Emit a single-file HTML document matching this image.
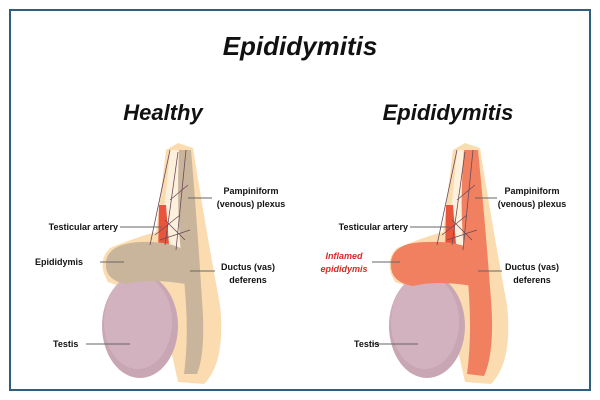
<!DOCTYPE html>
<html><head><meta charset="utf-8"><style>
html,body{margin:0;padding:0;background:#fff}
svg{display:block}
text{font-family:"Liberation Sans",sans-serif}
</style></head><body>
<svg width="600" height="400" viewBox="0 0 600 400" xmlns="http://www.w3.org/2000/svg">
<rect x="0" y="0" width="600" height="400" fill="#fff"/>
<rect x="10" y="10" width="580" height="380" fill="none" stroke="#2e5f7c" stroke-width="2"/>
<text x="300" y="55" text-anchor="middle" font-size="26" font-weight="bold" font-style="italic" fill="#111">Epididymitis</text>
<text x="163" y="120" text-anchor="middle" font-size="22" font-weight="bold" font-style="italic" fill="#111">Healthy</text>
<text x="448" y="120" text-anchor="middle" font-size="22" font-weight="bold" font-style="italic" fill="#111">Epididymitis</text>

<defs>
<g id="base">
  <path d="M166,150 L178,143 L193,148 Q206,230 220,305 Q226,362 204,384 L178,382 L160,300 L108,282 Q96,262 110,248 Q140,236 156,232 Z" fill="#fbdcb0"/>
  <path d="M170,150 L188,151 Q192,200 188,262 L158,256 Q166,200 170,150 Z" fill="#fdf0dc"/>
  <ellipse cx="140" cy="326" rx="38" ry="52" fill="#c9a6b3"/>
  <ellipse cx="138" cy="322" rx="34" ry="47" fill="#d3b2bf"/>
</g>
</defs>

<use href="#base"/>
<path d="M159,205 L166,205 L170,258 L158,258Z" fill="#e8553a"/>
<path d="M179,150 L191,150 Q197,220 202,300 Q206,352 197,374 L184,374 Q190,330 183,270 Q176,220 179,150Z" fill="#c9b49c"/>
<path d="M106,262 Q108,244 140,242 Q182,240 194,260 Q200,278 186,284 Q150,278 126,284 Q104,280 106,262Z" fill="#c9b49c"/>
<g stroke="#6a4a5a" stroke-width="0.8" fill="none">
<path d="M170,150 L150,245 M178,152 L165,245 M186,150 L176,250 M155,235 L180,215 M160,240 L190,230 M170,200 L188,185 M165,220 L185,240"/>
</g>

<g transform="translate(287,0)">
<use href="#base"/>
<path d="M159,205 L166,205 L170,258 L158,258Z" fill="#e8553a"/>
<path d="M177,150 L191,150 Q198,220 204,300 Q208,352 197,376 L180,374 Q186,330 180,270 Q171,220 177,150Z" fill="#f08060"/>
<path d="M104,262 Q106,242 140,242 Q184,240 196,260 Q202,280 186,286 Q150,280 126,286 Q102,282 104,262Z" fill="#f08060"/>
<g stroke="#6a4a5a" stroke-width="0.8" fill="none">
<path d="M170,150 L150,245 M178,152 L165,245 M186,150 L176,250 M155,235 L180,215 M160,240 L190,230 M170,200 L188,185 M165,220 L185,240"/>
</g>
</g>

<g stroke="#666" stroke-width="1">
<line x1="120" y1="227" x2="162" y2="227"/>
<line x1="100" y1="262" x2="124" y2="262"/>
<line x1="86" y1="344" x2="130" y2="344"/>
<line x1="188" y1="198" x2="212" y2="198"/>
<line x1="190" y1="271" x2="215" y2="271"/>
<line x1="410" y1="227" x2="450" y2="227"/>
<line x1="372" y1="262" x2="400" y2="262"/>
<line x1="372" y1="344" x2="418" y2="344"/>
<line x1="475" y1="198" x2="497" y2="198"/>
<line x1="478" y1="271" x2="502" y2="271"/>
</g>
<g font-size="9" fill="#111" font-weight="bold">
<text x="118" y="230" text-anchor="end">Testicular artery</text>
<text x="35" y="265">Epididymis</text>
<text x="53" y="347">Testis</text>
<text x="251" y="194" text-anchor="middle">Pampiniform</text>
<text x="251" y="207" text-anchor="middle">(venous) plexus</text>
<text x="248" y="270" text-anchor="middle">Ductus (vas)</text>
<text x="248" y="283" text-anchor="middle">deferens</text>
<text x="408" y="230" text-anchor="end">Testicular artery</text>
<text x="354" y="347">Testis</text>
<text x="532" y="194" text-anchor="middle">Pampiniform</text>
<text x="532" y="207" text-anchor="middle">(venous) plexus</text>
<text x="532" y="270" text-anchor="middle">Ductus (vas)</text>
<text x="532" y="283" text-anchor="middle">deferens</text>
</g>
<g font-size="9" fill="#d42a2a" font-weight="bold" font-style="italic">
<text x="344" y="259" text-anchor="middle">Inflamed</text>
<text x="344" y="272" text-anchor="middle">epididymis</text>
</g>
</svg>
</body></html>
